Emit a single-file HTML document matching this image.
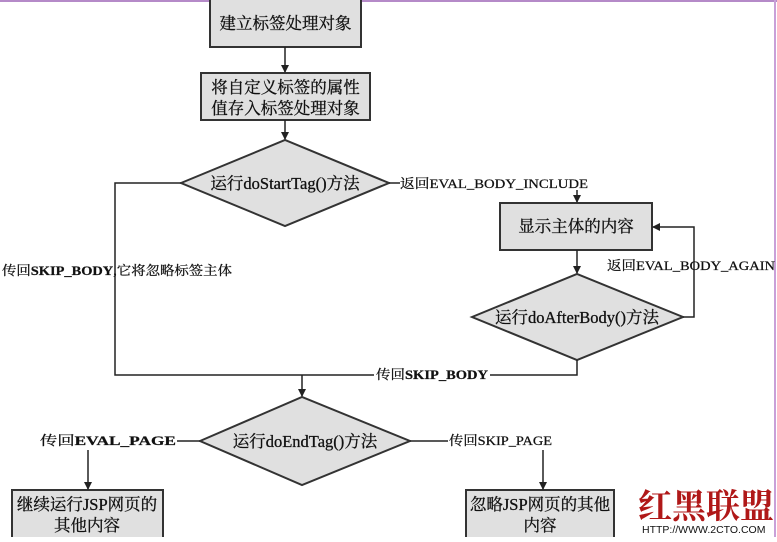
<!DOCTYPE html>
<html><head><meta charset="utf-8"><style>
body{margin:0;width:777px;height:537px;overflow:hidden;background:#fff;}
svg text{font-family:"Liberation Serif","Noto Serif CJK SC",serif;fill:#111;}
</style></head><body>
<svg width="777" height="537" viewBox="0 0 777 537">
<defs><marker id="a" markerWidth="8" markerHeight="8" refX="7" refY="4" orient="auto" markerUnits="userSpaceOnUse"><path d="M0,0 L8,4 L0,8 z" fill="#222"/></marker></defs>
<line x1="0" y1="1" x2="777" y2="1" stroke="#b58ac8" stroke-width="2"/>
<line x1="775" y1="0" x2="775" y2="537" stroke="#c9a0d8" stroke-width="2"/>
<g stroke="#333" stroke-width="2" fill="#e0e0e0">
<rect x="210" y="-2" width="151" height="49"/>
<rect x="201" y="73" width="169" height="47"/>
<polygon points="181,183 285,140 389,183 285,226"/>
<rect x="500" y="203" width="152" height="47"/>
<polygon points="472,317 577,274 683,317 577,360"/>
<polygon points="200,441 302,397 410,441 302,485"/>
<rect x="12" y="490" width="151" height="49"/>
<rect x="466" y="490" width="148" height="49"/>
</g>
<g stroke="#222" stroke-width="1.5" fill="none">
<line x1="285" y1="47" x2="285" y2="72" marker-end="url(#a)"/>
<line x1="285" y1="120" x2="285" y2="139" marker-end="url(#a)"/>
<polyline points="181,183 115,183 115,375 577,375 577,360"/>
<line x1="389" y1="183" x2="400" y2="183"/>
<line x1="577" y1="190" x2="577" y2="202" marker-end="url(#a)"/>
<line x1="577" y1="250" x2="577" y2="273" marker-end="url(#a)"/>
<polyline points="683,317 694,317 694,227 653,227" marker-end="url(#a)"/>
<line x1="302" y1="375" x2="302" y2="396" marker-end="url(#a)"/>
<line x1="177" y1="441" x2="200" y2="441"/>
<line x1="88" y1="450" x2="88" y2="489" marker-end="url(#a)"/>
<line x1="410" y1="441" x2="448" y2="441"/>
<line x1="543" y1="450" x2="543" y2="489" marker-end="url(#a)"/>
</g>
<rect x="374" y="367" width="116" height="15" fill="#fff"/>
<g font-size="16.5" style="stroke:#111;stroke-width:0.3">
<text x="285.5" y="29" text-anchor="middle">建立标签处理对象</text>
<text x="285.5" y="93" text-anchor="middle">将自定义标签的属性</text>
<text x="285.5" y="114" text-anchor="middle">值存入标签处理对象</text>
<text x="285" y="189" text-anchor="middle">运行doStartTag()方法</text>
<text x="576" y="232" text-anchor="middle">显示主体的内容</text>
<text x="577" y="323" text-anchor="middle">运行doAfterBody()方法</text>
<text x="305" y="447" text-anchor="middle">运行doEndTag()方法</text>
<text x="87" y="510" text-anchor="middle">继续运行JSP网页的</text>
<text x="87" y="531" text-anchor="middle">其他内容</text>
<text x="540" y="510" text-anchor="middle">忽略JSP网页的其他</text>
<text x="540" y="531" text-anchor="middle">内容</text>
</g>
<g font-size="13" style="stroke:#111;stroke-width:0.25">
<text x="400" y="188" textLength="188" lengthAdjust="spacingAndGlyphs">返回EVAL_BODY_INCLUDE</text>
<text x="2" y="275" textLength="230" lengthAdjust="spacingAndGlyphs">传回<tspan font-weight="bold">SKIP_BODY</tspan>,它将忽略标签主体</text>
<text x="607" y="270" textLength="168" lengthAdjust="spacingAndGlyphs">返回EVAL_BODY_AGAIN</text>
<text x="376" y="379" textLength="112" lengthAdjust="spacingAndGlyphs">传回<tspan font-weight="bold">SKIP_BODY</tspan></text>
<text x="40" y="445" textLength="136" lengthAdjust="spacingAndGlyphs">传回<tspan font-weight="bold">EVAL_PAGE</tspan></text>
<text x="449" y="445" textLength="103" lengthAdjust="spacingAndGlyphs">传回SKIP_PAGE</text>
</g>
<text x="638" y="518" font-size="34" font-weight="bold" style="fill:#b01818;font-family:'Noto Serif CJK SC',serif">红黑联盟</text>
<text x="642" y="533" font-size="10.5" style="font-family:'Liberation Sans',sans-serif">HTTP://WWW.2CTO.COM</text>
</svg>
</body></html>
